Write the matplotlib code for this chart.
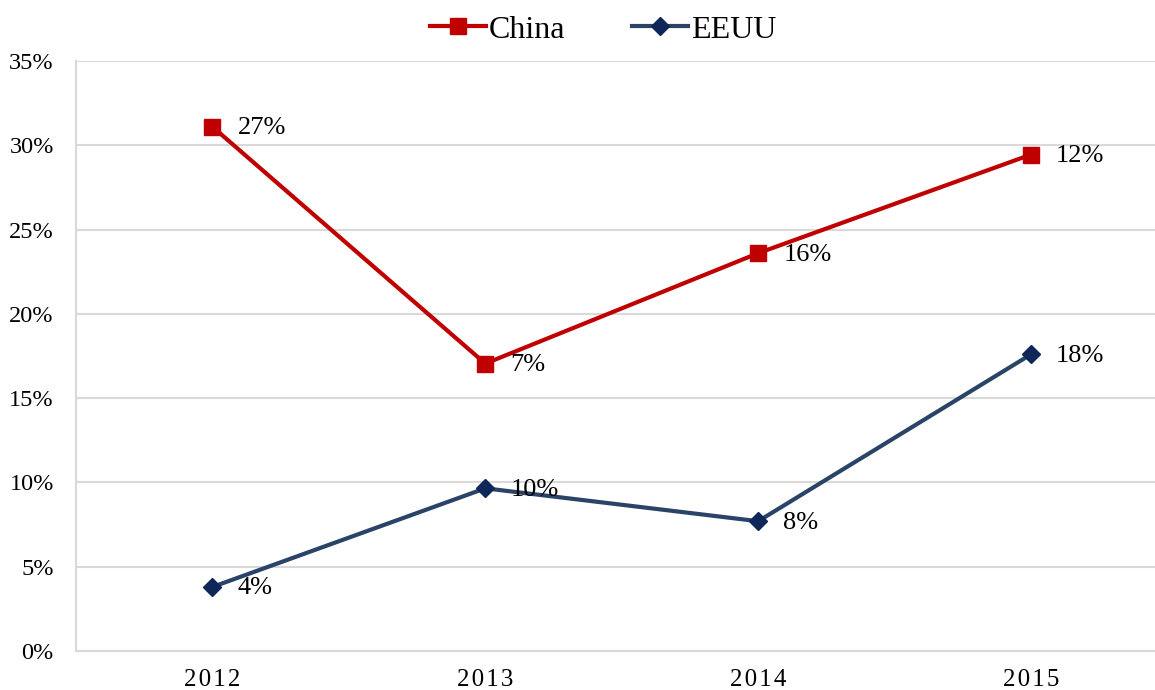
import matplotlib
matplotlib.use("Agg")
import matplotlib.pyplot as plt
from matplotlib.ticker import FuncFormatter

years = ["2012", "2013", "2014", "2015"]
china = [31.1, 17.05, 23.6, 29.45]
eeuu = [3.8, 9.65, 7.7, 17.6]
china_labels = ["27%", "7%", "16%", "12%"]
eeuu_labels = ["4%", "10%", "8%", "18%"]
yticks = [0, 5, 10, 15, 20, 25, 30, 35]

plt.rcParams['font.family'] = ['Liberation Serif', 'DejaVu Serif']

fig = plt.figure(figsize=(11.55, 6.9), dpi=100)
ax = fig.add_axes([76/1155, 1-651/690, (1167.5-76)/1155, (651-61)/690])

x = list(range(len(years)))
ax.plot(x, china, color='#C00000', lw=3, marker='s', ms=12, mfc='#C00000', mec='#C00000',
        label='China', zorder=3)
ax.plot(x, eeuu, color='#2A4468', lw=3, marker='D', ms=9, mfc='#0F2758', mec='#0F2758',
        label='EEUU', zorder=3)

for xi, v, t in zip(x, china, china_labels):
    ax.annotate(t, (xi, v), xytext=(18, -1), textcoords='offset points',
                ha='left', va='center', fontsize=19)
for xi, v, t in zip(x, eeuu, eeuu_labels):
    ax.annotate(t, (xi, v), xytext=(18, -1), textcoords='offset points',
                ha='left', va='center', fontsize=19)

ax.set_xlim(-0.5, 3.5)
ax.set_ylim(0, 35)
ax.set_yticks(yticks)
ax.yaxis.set_major_formatter(FuncFormatter(lambda v, p: f"{int(v)}%"))
ax.set_xticks(x)
ax.set_xticklabels(['\u200a'.join(y) for y in years])
ax.tick_params(axis='y', length=0, pad=16, labelsize=17.5)
ax.tick_params(axis='x', length=0, pad=13, labelsize=18)
ax.grid(axis='y', color='#D9D9D9', lw=1.5)
ax.set_axisbelow(True)
for s in ['top', 'right']:
    ax.spines[s].set_visible(False)
ax.spines['left'].set_color('#D9D9D9')
ax.spines['left'].set_linewidth(1.5)
ax.spines['bottom'].set_color('#D9D9D9')
ax.spines['bottom'].set_linewidth(1.5)

fig.legend(loc='center', bbox_to_anchor=(603/1155, 1-30/690), ncol=2, frameon=False,
           fontsize=23, handlelength=1.75, handletextpad=0.08, columnspacing=2.1)

fig.savefig('out.png', dpi=100)
